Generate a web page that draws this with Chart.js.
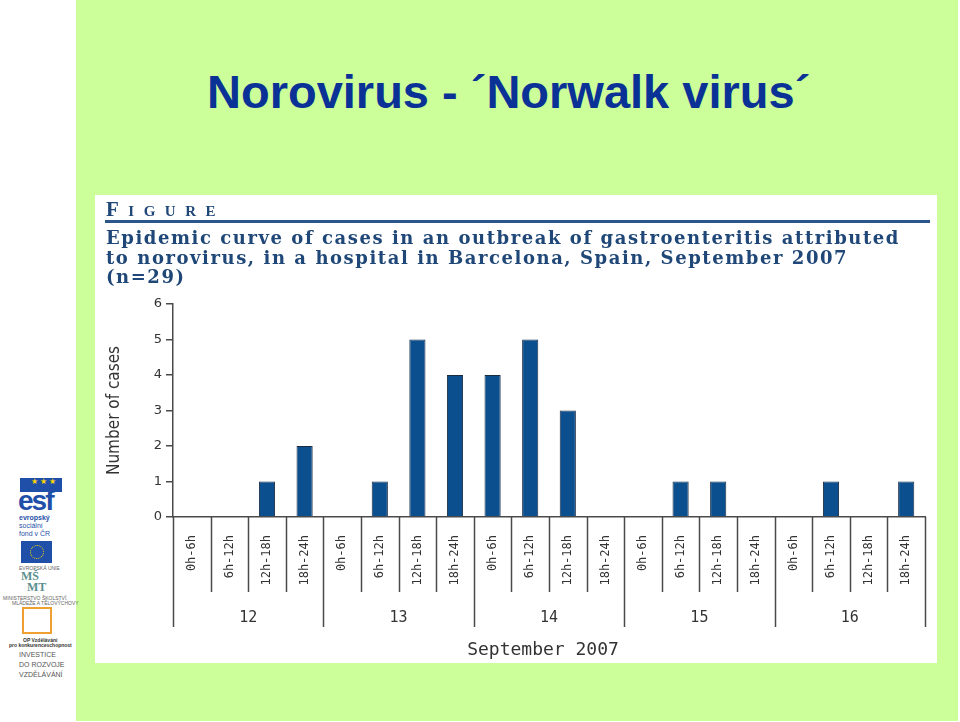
<!DOCTYPE html>
<html>
<head>
<meta charset="utf-8">
<script src="https://cdn.jsdelivr.net/npm/chart.js@4/dist/chart.umd.min.js"></script>
<style>
  body { margin: 0; width: 960px; height: 722px; background: #fff; position: relative; overflow: hidden; font-family: 'Liberation Sans', Arial, sans-serif; }
  #slide { position: absolute; left: 76px; top: 0; width: 882px; height: 721px; background: #ccff99; }
  #title { position: absolute; left: 207px; top: 68px; font: bold 47px/1 'Liberation Sans', Arial, sans-serif; color: #0a3296; white-space: nowrap; }
  #panel { position: absolute; left: 95px; top: 195px; width: 842px; height: 468px; background: #fff; }
  #chart { position: absolute; left: 0; top: 0; }
  #fig { position: absolute; left: 11px; top: 2px; font: bold 21px 'Liberation Serif', serif; font-variant: small-caps; letter-spacing: 9.5px; color: #1f4777; }
  #rule { position: absolute; left: 10px; top: 25px; width: 825px; height: 3px; background: #2c5689; }
  #cap { position: absolute; left: 11px; top: 33px; font: bold 18px/19.5px 'DejaVu Serif', serif; color: #1f4777; white-space: nowrap; }
  #cap span { display: inline-block; }
  .logo { position: absolute; left: 0; width: 75px; text-align: left; }
  .tiny { font-size: 5px; color: #666; white-space: nowrap; }
</style>
</head>
<body>
<div id="slide"></div>
<div id="title">Norovirus - ´Norwalk virus´</div>

<!-- left logo strip -->
<div class="logo" style="top:478px;left:20px;width:42px;height:14px;background:#1f4fa8;"></div>
<div class="logo" style="top:477px;left:31px;color:#ffd700;font-size:8px;">★ ★ ★</div>
<div class="logo" style="top:489px;left:18px;font:bold 28px/24px 'Liberation Sans',sans-serif;color:#1f4fa8;letter-spacing:-2px;">esf</div>
<div class="logo" style="top:514px;left:19px;font:bold 7px/8px 'Liberation Sans',sans-serif;color:#1f4fa8;">evropský<br><span style="font-weight:normal">sociální<br>fond v ČR</span></div>
<div class="logo" style="top:541px;left:21px;width:31px;height:22px;background:#1f4fa8;"></div>
<div class="logo" style="top:545px;left:30px;width:12px;height:12px;border:1px dotted #ffd700;border-radius:50%;"></div>
<div class="logo tiny" style="top:565px;left:19px;">EVROPSKÁ UNIE</div>
<div class="logo" style="top:571px;left:21px;font:bold 12px/11px 'Liberation Serif',serif;color:#5b8f8f;">MŠ<br>&nbsp;&nbsp;MT</div>
<div class="logo tiny" style="top:595px;left:3px;">MINISTERSTVO ŠKOLSTVÍ,</div>
<div class="logo tiny" style="top:600px;left:12px;">MLÁDEŽE A TĚLOVÝCHOVY</div>
<div class="logo" style="top:607px;left:22px;width:30px;height:27px;border:2px solid #f0a030;box-sizing:border-box;"></div>
<div class="logo tiny" style="top:637px;left:23px;font-weight:bold;color:#333;">OP Vzdělávání</div>
<div class="logo tiny" style="top:642px;left:9px;font-weight:bold;color:#333;">pro konkurenceschopnost</div>
<div class="logo" style="top:650px;left:19px;font:7px/10px 'Liberation Sans',sans-serif;color:#555;">INVESTICE<br>DO ROZVOJE<br>VZDĚLÁVÁNÍ</div>

<div id="panel">
  <canvas id="chart" width="842" height="468"></canvas>
  <div id="fig">Figure</div>
  <div id="rule"></div>
  <div id="cap"><span id="cap1">Epidemic curve of cases in an outbreak of gastroenteritis attributed</span><br><span>to norovirus, in a hospital in Barcelona, Spain, September 2007</span><br><span>(n=29)</span></div>
</div>

<script>
// 6-hour slots, repeated for each day of the outbreak
const slots = ['0h-6h', '6h-12h', '12h-18h', '18h-24h'];
const days = ['12', '13', '14', '15', '16'];
const monthLabel = 'September 2007';

// cases per slot, day by day
const cases12 = [0, 0, 1, 2];
const cases13 = [0, 1, 5, 4];
const cases14 = [4, 5, 3, 0];
const cases15 = [0, 1, 1, 0];
const cases16 = [0, 1, 0, 1];

const yTicks = [0, 1, 2, 3, 4, 5, 6];

const labels = days.flatMap(() => slots);
const cases = [].concat(cases12, cases13, cases14, cases15, cases16);

const axisColor = '#4a4a4a';
const textColor = '#333';

// spread the caption so the first line is as wide as in the figure
const cap1 = document.getElementById('cap1');
const chars = cap1.textContent.length;
const spacing = (794 - cap1.getBoundingClientRect().width) / chars;
document.getElementById('cap').style.letterSpacing = spacing + 'px';

// separators under the x axis, day numbers and the month
const dayAxis = {
    id: 'dayAxis',
    afterDraw(chart) {
        const x = chart.scales.x;
        const ctx = chart.ctx;
        const top = x.top;
        ctx.save();
        ctx.strokeStyle = axisColor;
        ctx.lineWidth = 1.5;
        for (let i = 0; i <= labels.length; i++) {
            const px = Math.round(x.getPixelForValue(i - 0.5)) + 0.5;
            const len = i % slots.length === 0 ? 110 : 75;
            ctx.beginPath();
            ctx.moveTo(px, top);
            ctx.lineTo(px, top + len);
            ctx.stroke();
        }
        ctx.fillStyle = textColor;
        ctx.textAlign = 'center';
        ctx.textBaseline = 'middle';
        ctx.font = "15px 'DejaVu Sans Mono', monospace";
        days.forEach((d, k) => {
            ctx.fillText(d, x.getPixelForValue(k * slots.length + 1.5), top + 101);
        });
        ctx.font = "18px 'DejaVu Sans Mono', monospace";
        ctx.fillText(monthLabel, x.getPixelForValue((labels.length - 1) / 2) - 6, top + 133);
        ctx.restore();
    }
};

function createChart() {
    const ctx = document.getElementById('chart').getContext('2d');
    new Chart(ctx, {
        type: 'bar',
        data: {
            labels: labels,
            datasets: [{
                label: 'Number of cases',
                data: cases,
                backgroundColor: '#0b4f8f',
                borderColor: '#1b2c45',
                borderWidth: 1,
                barPercentage: 0.43,
                categoryPercentage: 1
            }]
        },
        options: {
            responsive: false,
            animation: false,
            layout: {
                padding: { left: 0, right: 12, top: 109, bottom: 0 }
            },
            scales: {
                x: {
                    offset: true,
                    grid: { display: false },
                    border: { color: axisColor, width: 1.5 },
                    ticks: {
                        autoSkip: false,
                        maxRotation: 90,
                        minRotation: 90,
                        padding: 10,
                        color: textColor,
                        font: { family: "'DejaVu Sans Mono', monospace", size: 12 }
                    },
                    afterFit(scale) { scale.height = 146; }
                },
                y: {
                    min: 0,
                    max: 6,
                    afterBuildTicks(scale) { scale.ticks = yTicks.map(v => ({ value: v })); },
                    grid: { drawOnChartArea: false, tickLength: 7, color: axisColor, lineWidth: 1.5 },
                    border: { color: axisColor, width: 1.5 },
                    ticks: {
                        padding: 4,
                        color: textColor,
                        font: { family: "'DejaVu Sans', sans-serif", size: 13 }
                    },
                    title: {
                        display: true,
                        text: 'Number of cases',
                        color: textColor,
                        padding: { top: 9 },
                        font: { family: "'DejaVu Sans Condensed', 'Liberation Sans Narrow', sans-serif", size: 17 }
                    },
                    afterFit(scale) { scale.width = 78; }
                }
            },
            plugins: {
                legend: { display: false },
                tooltip: { enabled: false }
            }
        },
        plugins: [dayAxis]
    });
}
createChart()
</script>
</body>
</html>
